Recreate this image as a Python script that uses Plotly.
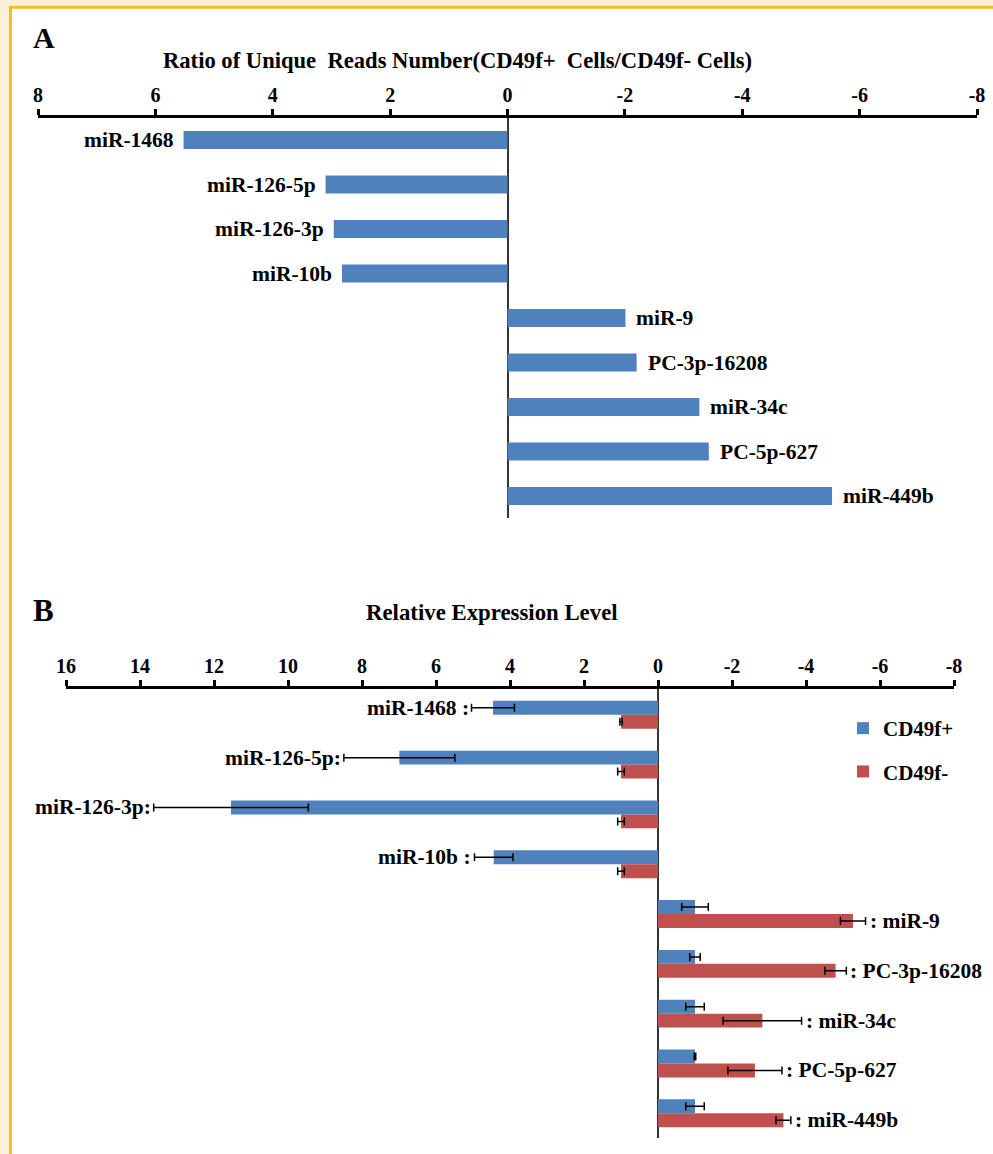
import plotly.graph_objects as go

# ---------------- data ----------------
categories = ["miR-1468", "miR-126-5p", "miR-126-3p", "miR-10b", "miR-9",
              "PC-3p-16208", "miR-34c", "PC-5p-627", "miR-449b"]

# Panel A: ratio of unique reads number (CD49f+ / CD49f-)
a_ratio = [5.52, 3.10, 2.96, 2.82, -2.01, -2.20, -3.27, -3.43, -5.53]
a_tickvals = [8, 6, 4, 2, 0, -2, -4, -6, -8]
a_ticktext = ["8", "6", "4", "2", "0", "-2", "-4", "-6", "-8"]

# Panel B: relative expression level
b_pos = [4.46, 6.99, 11.54, 4.44, -1.0, -1.0, -1.0, -1.0, -1.0]
b_pos_err = [0.58, 1.50, 2.09, 0.52, 0.36, 0.14, 0.25, 0.02, 0.25]
b_neg = [1.0, 1.0, 1.0, 1.0, -5.27, -4.80, -2.82, -2.62, -3.39]
b_neg_err = [0.03, 0.09, 0.09, 0.09, 0.34, 0.29, 1.06, 0.73, 0.20]
b_labels = ["miR-1468 :", "miR-126-5p:", "miR-126-3p:", "miR-10b :", ": miR-9",
            ": PC-3p-16208", ": miR-34c", ": PC-5p-627", ": miR-449b"]
b_tickvals = [16, 14, 12, 10, 8, 6, 4, 2, 0, -2, -4, -6, -8]
b_ticktext = ["16", "14", "12", "10", "8", "6", "4", "2", "0", "-2", "-4", "-6", "-8"]
series_names = ["CD49f+", "CD49f-"]

# ---------------- style ----------------
W, H = 993, 1154
BLUE = "#4F81BD"
RED = "#C0504D"
FONT = "Liberation Serif"


def px_x(p):
    return p / W


def px_y(p):
    return 1 - p / H


fig = go.Figure()

fig.add_trace(go.Bar(
    x=a_ratio, y=categories, orientation="h", width=0.4,
    marker=dict(color=BLUE, line=dict(width=0)),
    xaxis="x", yaxis="y", showlegend=False, hoverinfo="x+y"))

fig.add_trace(go.Bar(
    x=b_pos, y=categories, orientation="h", width=0.28, offset=-0.28,
    name=series_names[0], legendgroup="g1",
    marker=dict(color=BLUE, line=dict(width=0)),
    error_x=dict(type="data", array=b_pos_err, color="black", thickness=1.5, width=4),
    xaxis="x2", yaxis="y2"))

fig.add_trace(go.Bar(
    x=b_neg, y=categories, orientation="h", width=0.28, offset=0.0,
    name=series_names[1], legendgroup="g2",
    marker=dict(color=RED, line=dict(width=0)),
    error_x=dict(type="data", array=b_neg_err, color="black", thickness=1.5, width=4),
    xaxis="x2", yaxis="y2"))

axis_common = dict(
    side="top", showline=True, linecolor="black", linewidth=2.5,
    ticks="outside", ticklen=6, tickwidth=2.5, tickcolor="black",
    showgrid=False, zeroline=True, zerolinecolor="#333333", zerolinewidth=1.5,
    tickfont=dict(family=FONT, size=20, color="black", weight="bold"),
    ticklabelstandoff=-1, fixedrange=True, automargin=False,
)
yaxis_common = dict(showticklabels=False, showline=False, showgrid=False, zeroline=False,
                    ticks="", fixedrange=True, automargin=False)

annotations = []
# panel A labels
for cat, v in zip(categories, a_ratio):
    if v > 0:
        annotations.append(dict(x=v, y=cat, xref="x", yref="y", text=cat, showarrow=False,
                                xanchor="right", xshift=-8,
                                font=dict(family=FONT, size=21.5, color="black", weight="bold")))
    else:
        annotations.append(dict(x=v, y=cat, xref="x", yref="y", text=cat, showarrow=False,
                                xanchor="left", xshift=9,
                                font=dict(family=FONT, size=21.5, color="black", weight="bold")))

# panel B labels
for cat, lab, p, pe, n, ne in zip(categories, b_labels, b_pos, b_pos_err, b_neg, b_neg_err):
    if p > 0:
        annotations.append(dict(x=p + pe, y=cat, xref="x2", yref="y2", text=lab, showarrow=False,
                                xanchor="right", xshift=-1, yshift=7,
                                font=dict(family=FONT, size=21.5, color="black", weight="bold")))
    else:
        annotations.append(dict(x=n - ne, y=cat, xref="x2", yref="y2", text=lab, showarrow=False,
                                xanchor="left", xshift=2, yshift=-7,
                                font=dict(family=FONT, size=21.5, color="black", weight="bold")))

# titles and panel letters
annotations += [
    dict(x=px_x(457), y=px_y(60), xref="paper", yref="paper", showarrow=False,
         text="Ratio of Unique  Reads Number(CD49f+  Cells/CD49f- Cells)",
         xanchor="center", yanchor="middle",
         font=dict(family=FONT, size=22.6, color="black", weight="bold")),
    dict(x=px_x(492), y=px_y(612), xref="paper", yref="paper", showarrow=False,
         text="Relative Expression Level", xanchor="center", yanchor="middle",
         font=dict(family=FONT, size=22.8, color="black", weight="bold")),
    dict(x=px_x(31), y=px_y(38), xref="paper", yref="paper", showarrow=False,
         text="A", xanchor="left", yanchor="middle",
         font=dict(family=FONT, size=30, color="black", weight="bold")),
    dict(x=px_x(31), y=px_y(610), xref="paper", yref="paper", showarrow=False,
         text="B", xanchor="left", yanchor="middle",
         font=dict(family=FONT, size=31, color="black", weight="bold")),
]

fig.update_layout(
    width=W, height=H, autosize=False,
    margin=dict(l=0, r=0, t=0, b=0, pad=0, autoexpand=False),
    paper_bgcolor="#FDF0D5", plot_bgcolor="rgba(0,0,0,0)",
    barmode="overlay",
    xaxis=dict(domain=[px_x(38), px_x(977)], range=[8, -8], anchor="y",
               tickvals=a_tickvals, ticktext=a_ticktext, **axis_common),
    yaxis=dict(domain=[px_y(518), px_y(117.5)], range=[8.494, -0.506], anchor="x", **yaxis_common),
    xaxis2=dict(domain=[px_x(66), px_x(954)], range=[16, -8], anchor="y2",
                tickvals=b_tickvals, ticktext=b_ticktext, **axis_common),
    yaxis2=dict(domain=[px_y(1138), px_y(688.5)], range=[8.496, -0.528], anchor="x2", **yaxis_common),
    legend=dict(x=px_x(843), y=px_y(708), xanchor="left", yanchor="top",
                bgcolor="rgba(0,0,0,0)", borderwidth=0,
                traceorder="grouped", tracegroupgap=13,
                font=dict(family=FONT, size=21, color="black", weight="bold")),
    annotations=annotations,
    shapes=[dict(type="rect", xref="paper", yref="paper",
                 x0=px_x(10.5), x1=1.05, y0=-0.05, y1=px_y(7.2),
                 fillcolor="white", line=dict(color="#F5BD1F", width=3), layer="below")],
    showlegend=True,
)

fig.write_html(
    "out.html",
    config={"displayModeBar": False},
    post_script="document.body.style.margin='0';document.body.style.padding='0';"
                "document.body.style.overflow='hidden';"
                "document.documentElement.style.overflow='hidden';",
)
